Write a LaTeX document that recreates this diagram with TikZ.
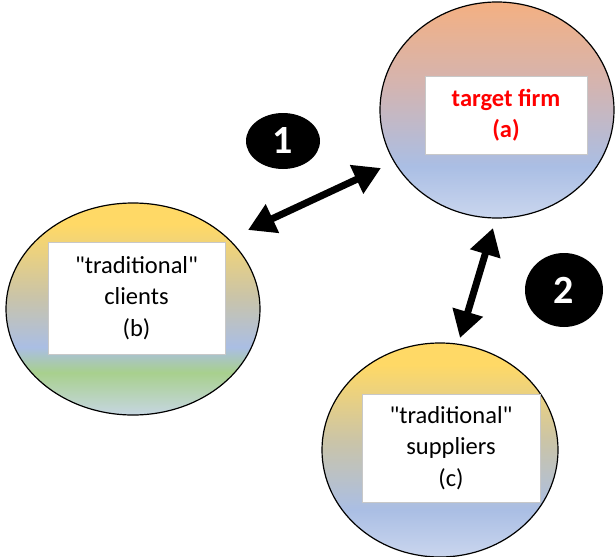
\documentclass[tikz,border=0pt]{standalone}
\usepackage{fontspec}
\setmainfont{Carlito}
% same family without TeX ligatures, so " stays a straight quote
\newfontfamily\labelfont{Carlito}[Ligatures=ResetAll]
\usetikzlibrary{shapes.geometric,arrows.meta}

\definecolor{forange}{RGB}{244,176,130}
\definecolor{fmid}{RGB}{212,180,176}
\definecolor{fblue}{RGB}{170,190,228}
\definecolor{fbot}{RGB}{202,214,238}
\definecolor{cyellow}{RGB}{255,217,102}
\definecolor{cmid}{RGB}{202,196,168}
\definecolor{cgreen}{RGB}{168,208,141}
\definecolor{cbot}{RGB}{198,214,226}
\definecolor{boxedge}{RGB}{200,200,200}

% vertical shadings: 25bp = bottom of the shape, 75bp = top
\pgfdeclareverticalshading{firmfill}{100bp}{%
  color(0bp)=(fbot); color(25bp)=(fbot); color(37bp)=(fblue);
  color(56bp)=(fmid); color(75bp)=(forange); color(100bp)=(forange)}
\pgfdeclareverticalshading{clientfill}{100bp}{%
  color(0bp)=(cbot); color(25bp)=(cbot); color(35bp)=(cgreen);
  color(41bp)=(fblue); color(53bp)=(cmid); color(70bp)=(cyellow);
  color(100bp)=(cyellow)}
\pgfdeclareverticalshading{supplierfill}{100bp}{%
  color(0bp)=(fbot); color(25bp)=(fbot); color(36bp)=(fblue);
  color(52bp)=(cmid); color(70bp)=(cyellow); color(100bp)=(cyellow)}

\tikzset{
  party/.style={ellipse, draw=black, line width=1.2pt, inner sep=0pt},
  label box/.style={rectangle, fill=white, draw=boxedge, line width=1pt,
    align=center, font=\labelfont\fontsize{24.5}{31.5}\selectfont, inner sep=0pt},
  badge/.style={ellipse, fill=black, inner sep=0pt, text=white,
    font=\fontsize{40}{40}\selectfont\bfseries},
  link/.style={line width=7pt,
    {Triangle[length=27pt,width=30pt]}-{Triangle[length=27pt,width=30pt]}}
}

\begin{document}
\begin{tikzpicture}[x=1pt,y=-1pt]
\useasboundingbox (0,0) rectangle (616,557);

% the three parties
\node[party, shading=firmfill, minimum width=234pt, minimum height=216pt] (a) at (497,110) {};
\node[party, shading=clientfill, minimum width=254pt, minimum height=212pt] (b) at (133,309) {};
\node[party, shading=supplierfill, minimum width=236pt, minimum height=214pt] (c) at (440,450) {};

% their labels
\node[label box, minimum width=162pt, minimum height=78pt, text=red,
  font=\labelfont\fontsize{24.5}{31}\selectfont\bfseries] (la) at (506,115) {target firm\\(a)};
\node[label box, minimum width=177pt, minimum height=112pt] (lb) at (136.5,298) {"traditional"\\clients\\(b)};
\node[label box, minimum width=178pt, minimum height=108pt] (lc) at (451,448) {"traditional"\\suppliers\\(c)};

% relationship arrows
\coordinate (b1) at ([shift={(115,-79)}]b.center);
\coordinate (a1) at ([shift={(-116,58)}]a.center);
\coordinate (a2) at ([shift={(-4,118)}]a.center);
\coordinate (c2) at ([shift={(20,-112)}]c.center);
\draw[link] (b1) -- (a1);
\draw[link] (c2) -- (a2);

% numbered badges
\node[badge, minimum width=74pt, minimum height=56pt] (n1) at (283,141) {1};
\node[badge, minimum width=78pt, minimum height=74pt] (n2) at (564,290) {2};
\end{tikzpicture}
\end{document}
